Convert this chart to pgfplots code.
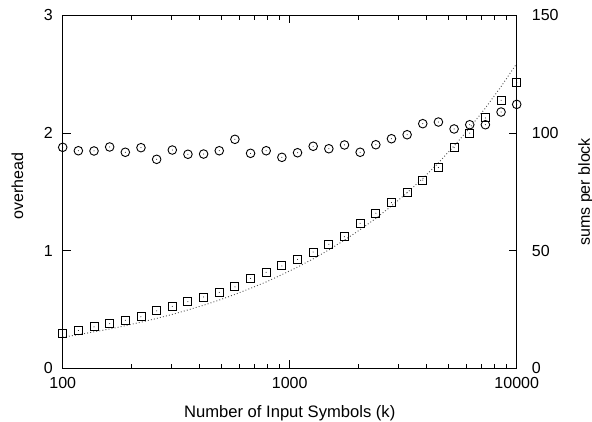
\documentclass[border=0pt]{standalone}
\usepackage{pgfplots}
\usepackage{pgfplotstable}
\pgfplotsset{compat=1.18}
\usepackage{fontspec}
\setmainfont{Liberation Sans}

% gnuplot-like marks with a dot in the middle
\pgfdeclareplotmark{dotcircle}{%
  \pgfpathcircle{\pgfpointorigin}{\pgfplotmarksize}\pgfusepathqstroke
  \pgfpathcircle{\pgfpointorigin}{0.5pt}\pgfusepathqfill}
\pgfdeclareplotmark{dotsquare}{%
  \pgfpathrectangle{\pgfpoint{-\pgfplotmarksize}{-\pgfplotmarksize}}{\pgfpoint{2\pgfplotmarksize}{2\pgfplotmarksize}}\pgfusepathqstroke
  \pgfpathcircle{\pgfpointorigin}{0.5pt}\pgfusepathqfill}

\pgfplotstableread{
k      ov     sq     fit
100    1.878  14.9   13.2
117.21 1.849  16.1   14.3
137.38 1.847  17.6   15.5
161.03 1.881  19.0   16.7
188.74 1.836  20.4   18.1
221.22 1.875  21.9   19.6
259.30 1.776  24.4   21.2
303.92 1.855  26.3   22.9
356.23 1.819  28.3   24.8
417.53 1.821  30.3   26.8
489.39 1.849  32.3   29.0
573.61 1.946  34.6   31.4
672.34 1.827  38.2   34.0
788.05 1.849  40.8   36.7
923.67 1.793  43.5   39.8
1082.6 1.832  46.3   43.0
1268.9 1.887  49.4   46.5
1487.3 1.866  52.7   50.3
1743.3 1.898  55.9   54.5
2043.3 1.836  61.6   58.9
2395.0 1.900  65.9   63.7
2807.2 1.951  70.4   69.0
3290.3 1.985  74.8   74.6
3856.6 2.079  80.0   80.7
4520.4 2.093  85.3   87.3
5298.3 2.034  93.8   94.5
6210.2 2.070  99.9   102.2
7279.0 2.070  106.4  110.6
8531.7 2.178  113.9  119.7
10000  2.243  121.5  129.5
}\data

\begin{document}
\begin{tikzpicture}
\useasboundingbox (0,0) rectangle (592pt,421pt);
\begin{axis}[
    scale only axis, width=454pt, height=353pt,
    at={(62.7pt,52.7pt)}, anchor=south west,
    xmode=log, xmin=100, xmax=10000,
    ymin=0, ymax=3, ytick={0,1,2,3},
    xtick={100,1000,10000}, xticklabels={100,1000,10000},
    ytick pos=left, xtick pos=both,
    tick align=inside, major tick length=8pt, minor tick length=4.5pt,
    tick style={black, line width=0.8pt},
    axis line style={black, line width=1pt},
    ticklabel style={font=\fontsize{16}{19}\selectfont, inner sep=0pt},
    /pgf/number format/assume math mode=true,
    xticklabel shift=9.3pt, yticklabel shift=9.7pt,
    xlabel={Number of Input Symbols (k)},
    xlabel style={at={(axis description cs:0.5,-0.138)}, anchor=base,
      inner sep=0pt, font=\fontsize{16.6}{20}\selectfont},
    ylabel={overhead},
    ylabel style={at={(axis description cs:-0.0996,0.516)}, anchor=center,
      inner sep=0pt, font=\fontsize{16}{19}\selectfont},
  ]
  \addplot[only marks, mark=dotcircle, mark size=4.3pt, black, line width=0.9pt]
    table[x=k, y=ov] {\data};
\end{axis}
\begin{axis}[
    scale only axis, width=454pt, height=353pt,
    at={(62.7pt,52.7pt)}, anchor=south west,
    xmode=log, xmin=100, xmax=10000,
    ymin=0, ymax=150, ytick={0,50,100,150},
    axis x line=none, axis y line*=right,
    tick align=inside, major tick length=8pt,
    tick style={black, line width=0.8pt},
    axis line style={black, line width=1pt},
    ticklabel style={font=\fontsize{16}{19}\selectfont, inner sep=0pt},
    /pgf/number format/assume math mode=true,
    yticklabel shift=15pt,
    ylabel={sums per block},
    ylabel style={at={(axis description cs:1.1522,0.5)}, anchor=center,
      inner sep=0pt, font=\fontsize{16}{19}\selectfont},
  ]
  \addplot[gray!60!black, line width=0.9pt, dash pattern=on 0.9pt off 2.2pt, no marks]
    table[x=k, y=fit] {\data};
  \addplot[only marks, mark=dotsquare, mark size=4pt, black, line width=0.9pt]
    table[x=k, y=sq] {\data};
\end{axis}
\end{tikzpicture}
\end{document}
